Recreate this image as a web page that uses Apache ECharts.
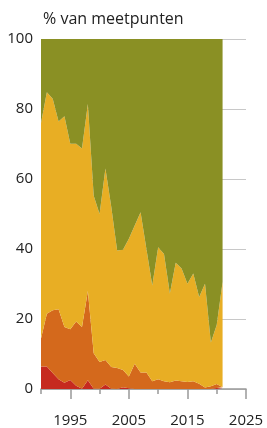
<!DOCTYPE html>
<html>
<head>
<meta charset="utf-8">
<script src="https://cdn.jsdelivr.net/npm/echarts@6/dist/echarts.min.js"></script>
<style>
  html, body { margin: 0; padding: 0; background: #fff; }
  #chart-container { width: 267px; height: 428px; }
</style>
</head>
<body>
<div id="chart-container"></div>
<script>
var dom = document.getElementById('chart-container');
var myChart = echarts.init(dom, null, { renderer: 'canvas' });

// years on the axis, data runs 1990-2021
var years = [];
for (var y = 1990; y <= 2025; y++) years.push(String(y));

// share of measuring points per class (%), bottom to top
var red = [6.4, 6.4, 4.6, 2.8, 1.8, 2.6, 0.9, 0.1, 2.5, 0.1, 0.1, 1.3, 0.1, 0, 0.5, 0.2,
  0, 0, 0, 0, 0, 0, 0, 0, 0, 0, 0, 0, 0, 0, 0.3, 0];
var orange = [8.0, 15.1, 17.9, 20.0, 15.9, 14.5, 18.4, 17.6, 25.5, 10.1, 7.6, 7.0, 6.2, 6.0, 4.9, 3.4,
  7.2, 4.7, 4.7, 2.2, 2.8, 2.2, 1.9, 2.4, 2.2, 2.0, 2.2, 1.5, 0.4, 0.8, 1.1, 0.5];
var yellow = [61.6, 63.3, 60.4, 53.6, 60.2, 53.0, 50.8, 51.0, 53.4, 45.0, 42.3, 54.7, 45.7, 33.6, 34.4, 39.3,
  39.5, 45.8, 35.3, 27.4, 37.7, 36.4, 25.4, 33.7, 32.2, 28.1, 30.8, 24.8, 29.7, 12.5, 16.9, 30.1];
var olive = [24.0, 15.2, 17.1, 23.6, 22.1, 29.9, 29.9, 31.3, 18.6, 44.8, 50.0, 37.0, 48.0, 60.4, 60.2, 57.1,
  53.3, 49.5, 60.0, 70.4, 59.5, 61.4, 72.7, 63.9, 65.6, 69.9, 67.0, 73.7, 69.9, 86.7, 81.7, 69.4];

var colors = ['#c62a1f', '#d4691c', '#e8ae24', '#8a9024'];
var font = 'Open Sans';
var textColor = '#222';

function areaSeries(data, color) {
  return {
    type: 'line',
    stack: 'total',
    data: data,
    symbol: 'none',
    showSymbol: false,
    silent: true,
    animation: false,
    lineStyle: { width: 0 },
    areaStyle: { color: color, opacity: 1 }
  };
}

option = {
  animation: false,
  title: {
    text: '% van meetpunten',
    left: 38,
    top: 6,
    textStyle: { fontFamily: font, fontSize: 16, fontWeight: 'normal', color: textColor }
  },
  grid: { left: 41, right: 21, top: 39, bottom: 37 },
  xAxis: [
    {
      type: 'category',
      data: years,
      boundaryGap: false,
      axisLine: { lineStyle: { color: '#999', width: 1.5 } },
      axisTick: {
        length: 5,
        lineStyle: { color: '#999', width: 1.5 },
        interval: function (i, v) { return +v % 10 === 0; }
      },
      axisLabel: { show: false },
      splitLine: { show: false }
    },
    {
      type: 'category',
      data: years,
      boundaryGap: false,
      position: 'bottom',
      axisLine: { show: false },
      axisTick: {
        length: 10,
        lineStyle: { color: '#999', width: 1.5 },
        interval: function (i, v) { return +v % 10 === 5; }
      },
      axisLabel: {
        interval: function (i, v) { return +v % 10 === 5; },
        margin: 24,
        fontFamily: font,
        fontSize: 15,
        color: textColor
      },
      splitLine: { show: false }
    }
  ],
  yAxis: {
    type: 'value',
    min: 0,
    max: 100,
    interval: 20,
    axisLine: { show: false },
    axisTick: { show: false },
    axisLabel: { margin: 8, fontFamily: font, fontSize: 15, color: textColor },
    splitLine: { lineStyle: { color: '#c8c8c8', width: 1 } }
  },
  series: [
    areaSeries(red, colors[0]),
    areaSeries(orange, colors[1]),
    areaSeries(yellow, colors[2]),
    areaSeries(olive, colors[3])
  ]
};

myChart.setOption(option);
window.addEventListener('resize', myChart.resize);
</script>
</body>
</html>
